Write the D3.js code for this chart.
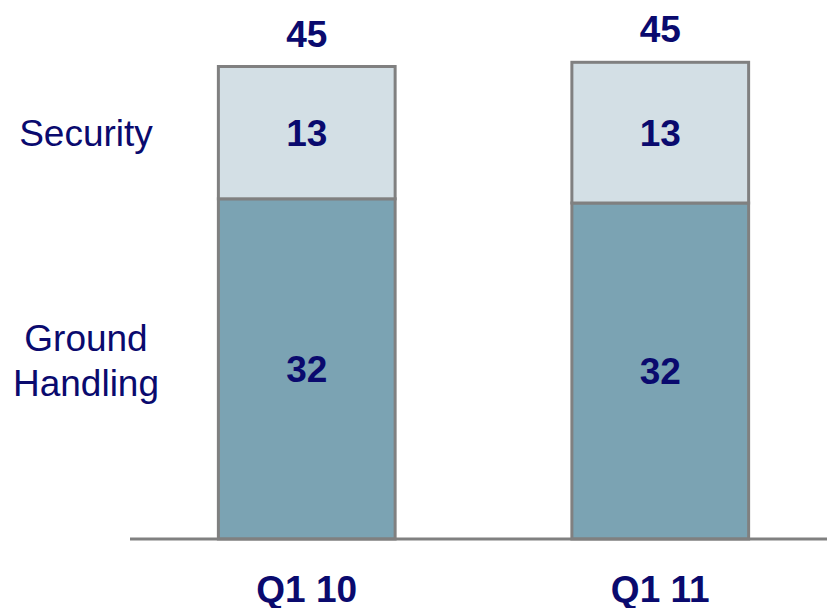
<!DOCTYPE html>
<html>
<head>
<meta charset="utf-8">
<script src="https://cdn.jsdelivr.net/npm/d3@7"></script>
<style>
  html, body { margin: 0; padding: 0; background: #fff; }
  svg { display: block; font-family: 'Liberation Sans', Arial, sans-serif; }
</style>
</head>
<body>
<div id="chart"></div>
<script>
// data
const categories = ['Q1 10', 'Q1 11'];
const groundHandling = [32.4, 32.0];
const security = [12.6, 13.4];
const seriesNames = ['Ground Handling', 'Security'];

const width = 827;
const height = 608;
const textColor = '#0a0a6e';
const strokeColor = '#808080';
const fontSize = 37;

const data = categories.map((c, i) => ({
  category: c,
  ground: groundHandling[i],
  security: security[i],
}));

const xScale = d3
  .scaleBand()
  .domain(categories)
  .range([130, 837])
  .paddingInner(0.5)
  .paddingOuter(0.25);

const yScale = d3.scaleLinear().domain([0, 50]).range([539, 14]);

const stack = d3.stack().keys(['ground', 'security']);
const stackedData = stack(data);

const colorScale = d3
  .scaleOrdinal()
  .domain(['ground', 'security'])
  .range(['#7ba3b3', '#d3dfe5']);

const svg = d3
  .select('#chart')
  .append('svg')
  .attr('width', width)
  .attr('height', height);

// bars
svg
  .selectAll('.serie')
  .data(stackedData)
  .enter()
  .append('g')
  .attr('class', 'serie')
  .attr('fill', (d) => colorScale(d.key))
  .selectAll('rect')
  .data((d) => d)
  .enter()
  .append('rect')
  .attr('x', (d) => xScale(d.data.category))
  .attr('y', (d) => yScale(d[1]))
  .attr('width', xScale.bandwidth())
  .attr('height', (d) => yScale(d[0]) - yScale(d[1]))
  .attr('stroke', strokeColor)
  .attr('stroke-width', 3);

// segment values
svg
  .selectAll('.seg-label')
  .data(stackedData.flatMap((s) => s))
  .enter()
  .append('text')
  .attr('class', 'seg-label')
  .attr('x', (d) => xScale(d.data.category) + xScale.bandwidth() / 2)
  .attr('y', (d) => (yScale(d[0]) + yScale(d[1])) / 2)
  .attr('dy', '0.35em')
  .attr('text-anchor', 'middle')
  .attr('font-size', fontSize)
  .attr('font-weight', 'bold')
  .attr('fill', textColor)
  .text((d) => Math.round(d[1] - d[0]));

// totals
svg
  .selectAll('.total')
  .data(data)
  .enter()
  .append('text')
  .attr('class', 'total')
  .attr('x', (d) => xScale(d.category) + xScale.bandwidth() / 2)
  .attr('y', (d) => yScale(d.ground + d.security) - 20)
  .attr('text-anchor', 'middle')
  .attr('font-size', fontSize)
  .attr('font-weight', 'bold')
  .attr('fill', textColor)
  .text((d) => Math.round(d.ground + d.security));

// baseline
svg
  .append('line')
  .attr('x1', 130)
  .attr('x2', width)
  .attr('y1', yScale(0))
  .attr('y2', yScale(0))
  .attr('stroke', strokeColor)
  .attr('stroke-width', 3);

// category labels
svg
  .selectAll('.cat')
  .data(categories)
  .enter()
  .append('text')
  .attr('class', 'cat')
  .attr('x', (d) => xScale(d) + xScale.bandwidth() / 2)
  .attr('y', 602)
  .attr('text-anchor', 'middle')
  .attr('font-size', fontSize)
  .attr('font-weight', 'bold')
  .attr('fill', textColor)
  .text((d) => d);

// series names, next to first bar
const first = stackedData.map((s) => s[0]);
const secMid = (yScale(first[1][0]) + yScale(first[1][1])) / 2;
const grdMid = (yScale(first[0][0]) + yScale(first[0][1])) / 2;

svg
  .append('text')
  .attr('x', 86)
  .attr('y', secMid + 13)
  .attr('text-anchor', 'middle')
  .attr('font-size', fontSize)
  .attr('fill', textColor)
  .text(seriesNames[1]);

const gh = svg
  .append('text')
  .attr('text-anchor', 'middle')
  .attr('font-size', fontSize)
  .attr('fill', textColor);

seriesNames[0].split(' ').forEach((w, i) => {
  gh.append('tspan')
    .attr('x', 86)
    .attr('y', grdMid - 18 + i * 45)
    .text(w);
});
</script>
</body>
</html>
